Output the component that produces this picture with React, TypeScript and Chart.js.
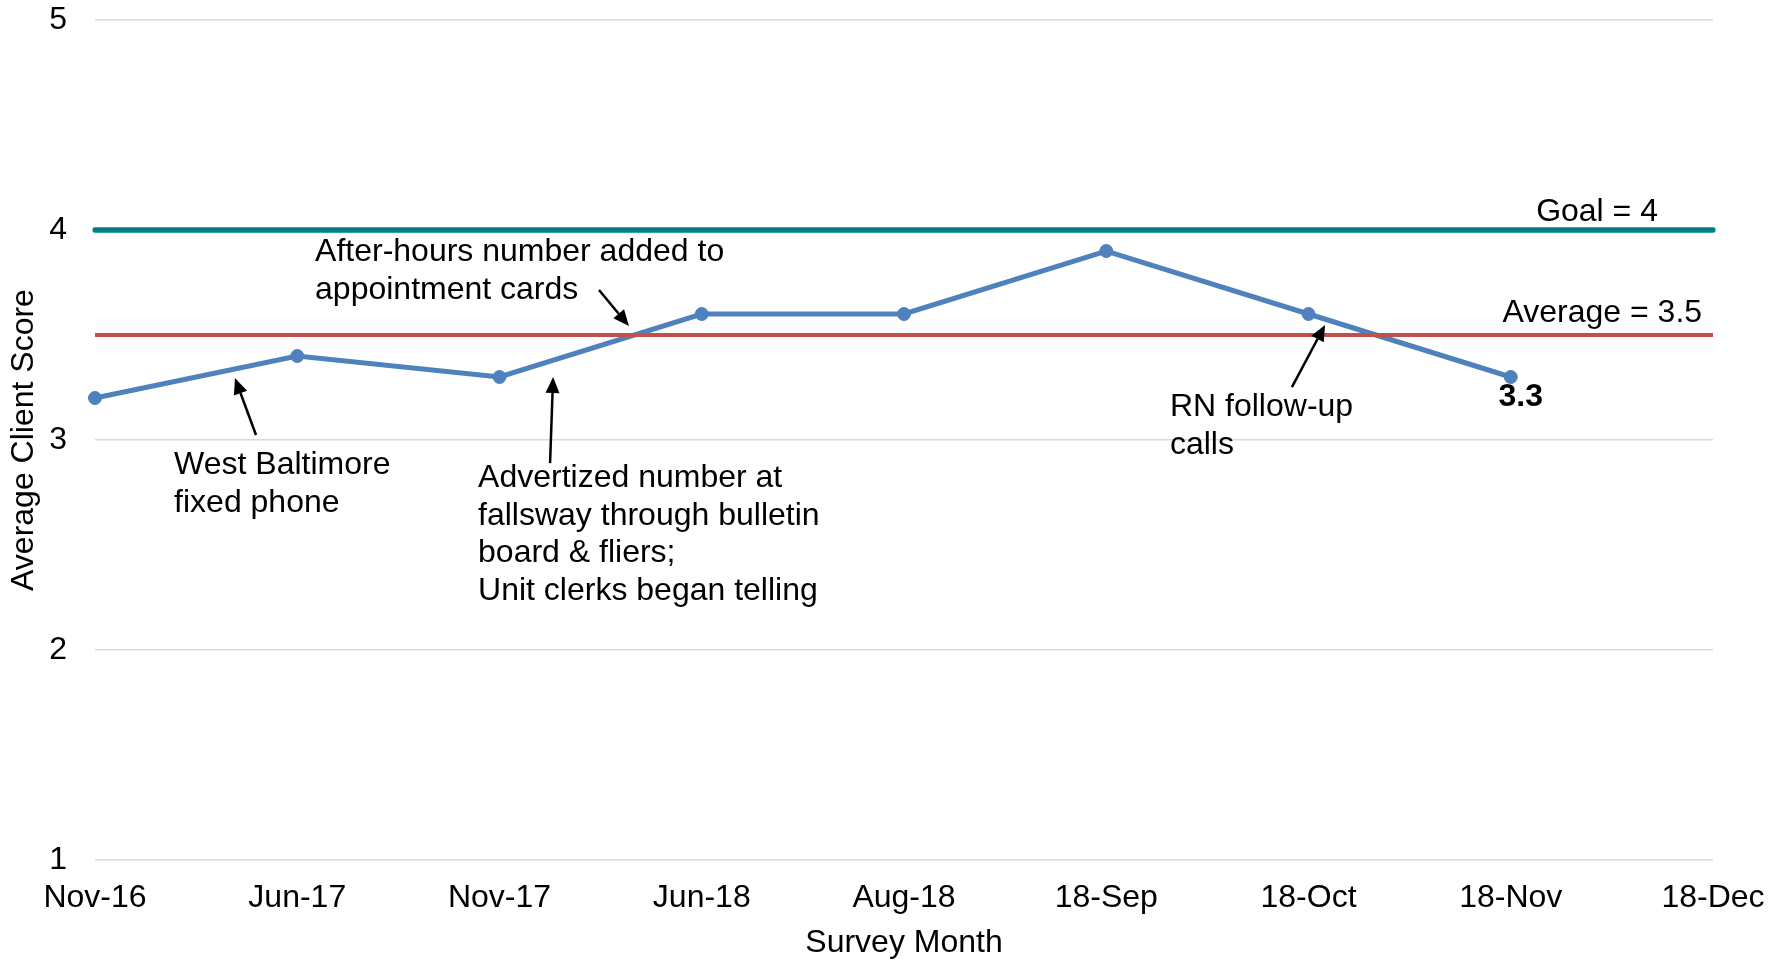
import React, { useEffect, useRef } from "react";
import { Chart, registerables } from "chart.js";

Chart.register(...registerables);

// ---- data ----
const months = ["Nov-16", "Jun-17", "Nov-17", "Jun-18", "Aug-18", "18-Sep", "18-Oct", "18-Nov", "18-Dec"];
const scores: (number | null)[] = [3.2, 3.4, 3.3, 3.6, 3.6, 3.9, 3.6, 3.3, null];
const goalValue = 4;
const averageValue = 3.5;
const yMin = 1;
const yMax = 5;

// annotations anchored in data space (x = category index, y = score)
const notes = [
  { lines: ["West Baltimore", "fixed phone"], x: 0.391, y: 2.881, tail: [0.796, 3.024], tip: [0.692, 3.295] },
  { lines: ["After-hours number added to", "appointment cards"], x: 1.088, y: 3.895, tail: [2.492, 3.714], tip: [2.64, 3.543] },
  {
    lines: ["Advertized number at", "fallsway through bulletin", "board & fliers;", "Unit clerks began telling"],
    x: 1.894,
    y: 2.819,
    tail: [2.25, 2.89],
    tip: [2.265, 3.3],
  },
  { lines: ["RN follow-up", "calls"], x: 5.315, y: 3.157, tail: [5.918, 3.252], tip: [6.082, 3.548] },
];
const refLabels = [
  { text: "Goal = 4", x: 7.728, y: 4.086 },
  { text: "Average = 3.5", x: 7.946, y: 3.605 },
];

const FONT = "'Liberation Sans', Arial, Helvetica, sans-serif";
const FS = 32;

const annotationPlugin = {
  id: "notes",
  afterDatasetsDraw(chart: any) {
    const { ctx, scales } = chart;
    const xs = scales.x;
    const ys = scales.y;
    const px = (v: number) => xs.getPixelForValue(v);
    const py = (v: number) => ys.getPixelForValue(v);
    ctx.save();
    ctx.fillStyle = "#000";
    ctx.strokeStyle = "#000";
    ctx.font = `${FS}px ${FONT}`;
    ctx.textBaseline = "middle";
    ctx.textAlign = "left";
    const lh = 37.8;
    for (const n of notes) {
      const x0 = px(n.x);
      const y0 = py(n.y);
      n.lines.forEach((l, i) => ctx.fillText(l, x0, y0 + i * lh));
      const tx = px(n.tail[0]), ty = py(n.tail[1]);
      const hx = px(n.tip[0]), hy = py(n.tip[1]);
      const ang = Math.atan2(hy - ty, hx - tx);
      const headLen = 16, headW = 7;
      const bx = hx - headLen * Math.cos(ang);
      const by = hy - headLen * Math.sin(ang);
      ctx.lineWidth = 2.5;
      ctx.beginPath();
      ctx.moveTo(tx, ty);
      ctx.lineTo(bx, by);
      ctx.stroke();
      ctx.beginPath();
      ctx.moveTo(hx, hy);
      ctx.lineTo(bx + headW * Math.sin(ang), by - headW * Math.cos(ang));
      ctx.lineTo(bx - headW * Math.sin(ang), by + headW * Math.cos(ang));
      ctx.closePath();
      ctx.fill();
    }
    ctx.textAlign = "right";
    for (const r of refLabels) {
      ctx.fillText(r.text, px(r.x), py(r.y));
    }
    // data label for the last point
    let last = -1;
    scores.forEach((v, i) => {
      if (v !== null) last = i;
    });
    if (last >= 0) {
      const meta = chart.getDatasetMeta(2);
      const pt = meta.data[last];
      ctx.font = `bold ${FS}px ${FONT}`;
      ctx.textAlign = "center";
      ctx.fillText(String(scores[last]), pt.x + 10, pt.y + 20);
    }
    ctx.restore();
  },
};

export default function App() {
  const ref = useRef<HTMLCanvasElement>(null);
  useEffect(() => {
    document.body.style.margin = "0";
    const chart = new Chart(ref.current!, {
      type: "line",
      data: {
        labels: months,
        datasets: [
          {
            label: "Average",
            data: months.map(() => averageValue),
            borderColor: "#C0504D",
            borderWidth: 4,
            pointRadius: 0,
            order: 0,
          },
          {
            label: "Goal",
            data: months.map(() => goalValue),
            borderColor: "#008080",
            borderWidth: 5.5,
            borderCapStyle: "round",
            pointRadius: 0,
            order: 1,
          },
          {
            label: "Average Client Score",
            data: scores,
            borderColor: "#4F81BD",
            backgroundColor: "#4F81BD",
            borderWidth: 5,
            pointRadius: 6.5,
            pointBorderWidth: 1,
            pointBorderColor: "#4F81BD",
            pointBackgroundColor: "#4F81BD",
            order: 2,
          },
        ],
      },
      options: {
        animation: false,
        responsive: true,
        maintainAspectRatio: false,
        layout: { padding: { top: 20, right: 72, left: 0, bottom: 0 } },
        plugins: { legend: { display: false }, tooltip: { enabled: false } },
        scales: {
          x: {
            type: "category",
            offset: false,
            grid: { display: false, drawTicks: false },
            border: { display: false },
            ticks: {
              color: "#000",
              font: { family: FONT, size: FS },
              padding: 19,
              maxRotation: 0,
              autoSkip: false,
            },
            title: {
              display: true,
              text: "Survey Month",
              color: "#000",
              font: { family: FONT, size: FS, lineHeight: 1 },
              padding: { top: 0, bottom: 1 },
            },
            afterFit: (s: any) => {
              s.height = 100;
              s.paddingLeft = 0;
              s.paddingRight = 0;
            },
          },
          y: {
            min: yMin,
            max: yMax,
            ticks: {
              stepSize: 1,
              color: "#000",
              font: { family: FONT, size: FS },
              padding: 28,
            },
            grid: { color: "#D9D9D9", lineWidth: 1.5, drawTicks: false },
            border: { display: false },
            title: {
              display: true,
              text: "Average Client Score",
              color: "#000",
              font: { family: FONT, size: FS },
              padding: { top: 5, bottom: 0 },
            },
            afterFit: (s: any) => {
              s.width = 95;
              s.paddingTop = 0;
              s.paddingBottom = 0;
            },
          },
        },
      },
      plugins: [annotationPlugin],
    });
    return () => chart.destroy();
  }, []);
  return (
    <div style={{ position: "fixed", left: 0, top: 0, width: 1785, height: 960, background: "#fff" }}>
      <canvas ref={ref} />
    </div>
  );
}
